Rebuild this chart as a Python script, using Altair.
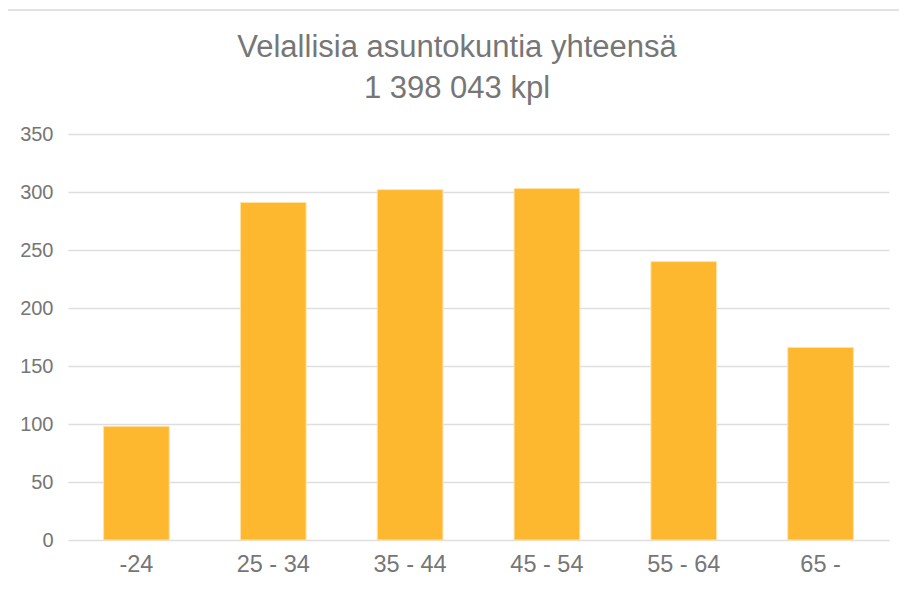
import altair as alt
import pandas as pd

categories = ["-24", "25 - 34", "35 - 44", "45 - 54", "55 - 64", "65 -"]
values = [98, 291, 302, 303, 240, 166]
y_ticks = [0, 50, 100, 150, 200, 250, 300, 350]
title_lines = ["Velallisia asuntokuntia yhteensä", "1 398 043 kpl"]

df = pd.DataFrame({"ika": categories, "arvo": values})

FONT = "Liberation Sans Narrow, Liberation Sans, Arial, sans-serif"
TXT = "#767676"

bars = alt.Chart(df).mark_bar(color="#FDB82F", stroke="#FFE3A8", strokeWidth=1).encode(
    x=alt.X("ika:N", sort=categories, title=None,
            scale=alt.Scale(paddingInner=0.52, paddingOuter=0.26),
            axis=alt.Axis(labelAngle=0, labelFontSize=23.5, labelColor=TXT, labelFont=FONT,
                          labelPadding=12, ticks=False, domain=False, grid=False)),
    y=alt.Y("arvo:Q", title=None,
            scale=alt.Scale(domain=[0, 350], nice=False),
            axis=alt.Axis(values=y_ticks, labelFontSize=20, labelColor=TXT, labelFont=FONT,
                          labelPadding=15, ticks=False, domain=False,
                          gridColor="#DEDEDE", gridWidth=1.3)),
)

one = pd.DataFrame({"a": [0]})

top_line = alt.Chart(one).mark_rule(color="#D9D9D9", strokeWidth=1.5).encode(
    x=alt.value(-60), x2=alt.value(840), y=alt.value(-124)
)

title1 = alt.Chart(one).mark_text(fontSize=31, font=FONT, color=TXT, align="center",
                                  baseline="alphabetic").encode(
    x=alt.value(389), y=alt.value(-77), text=alt.value(title_lines[0])
)
title2 = alt.Chart(one).mark_text(fontSize=31, font=FONT, color=TXT, align="center",
                                  baseline="alphabetic").encode(
    x=alt.value(389), y=alt.value(-36), text=alt.value(title_lines[1])
)

chart = alt.layer(bars, top_line, title1, title2).properties(
    width=821,
    height=406,
    autosize=alt.AutoSizeParams(type="none"),
    padding={"left": 60, "top": 126, "right": 10, "bottom": 45},
).configure_view(stroke=None)

chart.save("out.html", embed_options={"renderer": "svg", "actions": False})
